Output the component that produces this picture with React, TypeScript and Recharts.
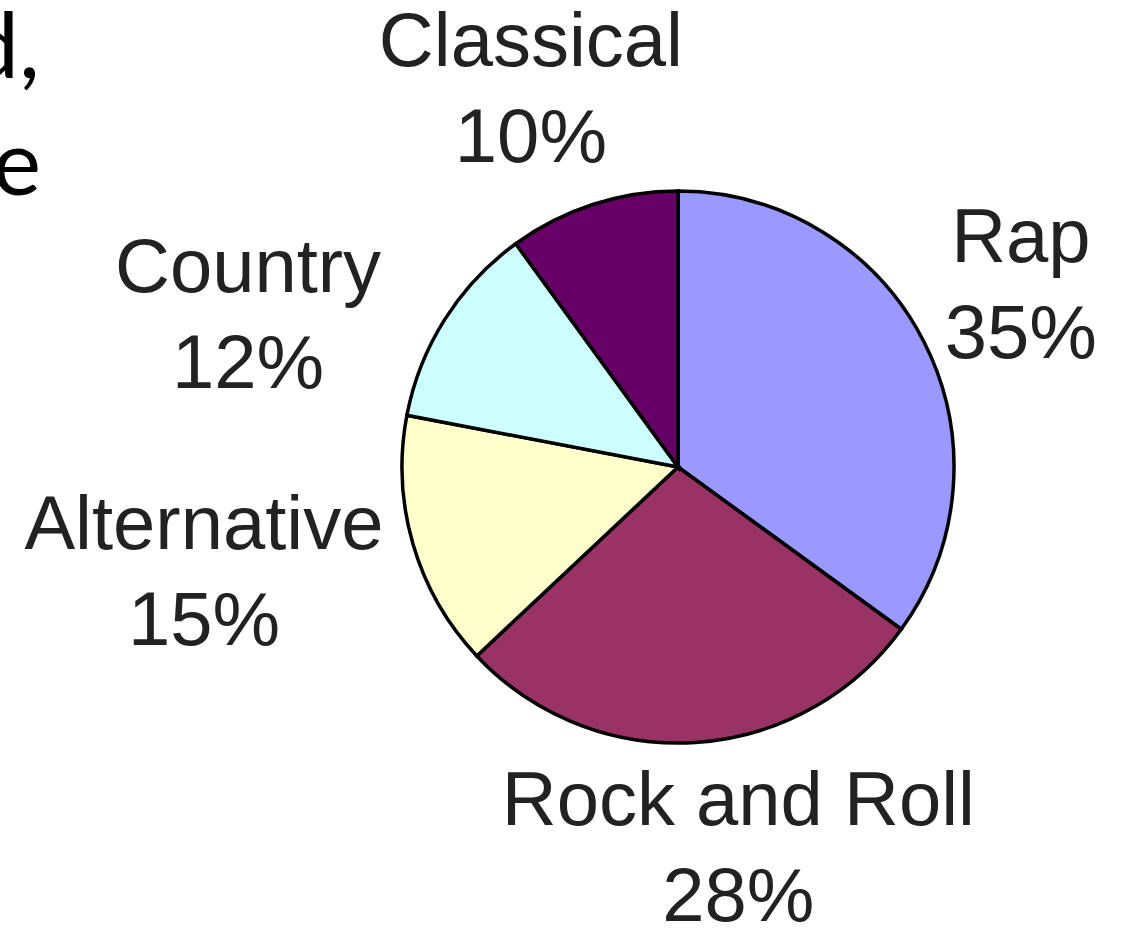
import React from "react";
import { PieChart, Pie, Cell } from "recharts";

const genres = ["Rap", "Rock and Roll", "Alternative", "Country", "Classical"];
const shares = [35, 28, 15, 12, 10];
const sliceColors = ["#9999FF", "#993366", "#FFFFCC", "#CCFFFF", "#660066"];

// small hand tweaks so labels sit where the old Excel chart put them
const labelNudge: [number, number][] = [
  [-2, -8],
  [26, -8],
  [-3, -5],
  [-55, 54],
  [-4, -11],
];

const data = genres.map((name, i) => ({ name, value: shares[i] }));

const LABEL_FONT = "76px 'Liberation Sans'";
const LINE_GAP = 96;
const BLOCK_H = 154;
const RAD = Math.PI / 180;

let ctx: CanvasRenderingContext2D | null = null;
function textWidth(s: string) {
  if (!ctx) ctx = document.createElement("canvas").getContext("2d");
  if (!ctx) return s.length * 40;
  ctx.font = LABEL_FONT;
  return ctx.measureText(s).width;
}

function renderLabel(props: any) {
  const { cx, cy, midAngle, outerRadius, percent, name, index } = props;
  const pct = `${Math.round(percent * 100)}%`;
  const w = Math.max(textWidth(name), textWidth(pct));
  const cos = Math.cos(-midAngle * RAD);
  const sin = Math.sin(-midAngle * RAD);
  const r = outerRadius + 35;
  const [nx, ny] = labelNudge[index] || [0, 0];
  const x = cx + r * cos + cos * (w / 2) + nx;
  const y = cy + r * sin + sin * (BLOCK_H / 2) + ny;
  return (
    <text
      key={`lbl-${index}`}
      x={x}
      y={y - 21}
      textAnchor="middle"
      fill="#222"
      style={{ font: LABEL_FONT }}
    >
      <tspan x={x} y={y - 21}>{name}</tspan>
      <tspan x={x} y={y - 21 + LINE_GAP}>{pct}</tspan>
    </text>
  );
}

export default function App() {
  return (
    <div
      style={{
        position: "absolute",
        left: 0,
        top: 0,
        width: 1122,
        height: 928,
        overflow: "hidden",
        background: "#fff",
      }}
    >
      <PieChart width={1122} height={928} margin={{ top: 0, right: 0, bottom: 0, left: 0 }}>
        <text x={40} y={78} textAnchor="end" fill="#000" style={{ font: "92px Lato" }}>
          d,
        </text>
        <text x={41} y={195} textAnchor="end" fill="#000" style={{ font: "92px Lato" }}>
          e
        </text>
        <Pie
          data={data}
          dataKey="value"
          nameKey="name"
          cx={678}
          cy={467}
          outerRadius={276}
          startAngle={90}
          endAngle={-270}
          stroke="#000"
          strokeWidth={3.5}
          label={renderLabel}
          labelLine={false}
          isAnimationActive={false}
        >
          {data.map((d, i) => (
            <Cell key={d.name} fill={sliceColors[i]} />
          ))}
        </Pie>
      </PieChart>
    </div>
  );
}
